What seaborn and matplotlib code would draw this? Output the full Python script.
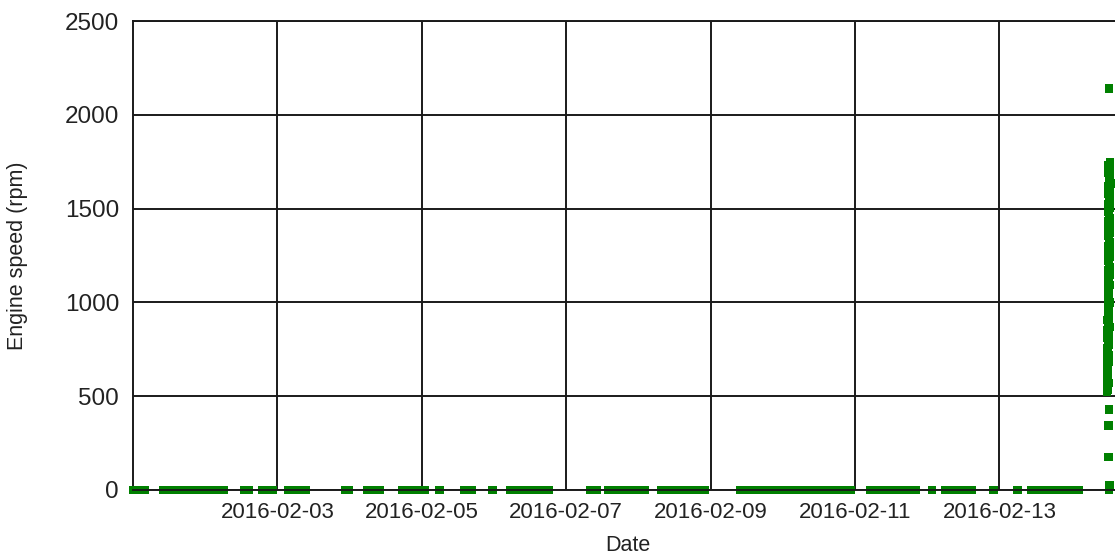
import pandas as pd
import matplotlib.pyplot as plt
import matplotlib.dates as mdates
import seaborn as sns
plt.switch_backend('Agg')

# hours after 2016-02-01 00:00 for the idle samples (0 rpm)
idle_hours = [0, 2, 4,
              10, 12.5, 15, 17.5, 20, 22.5, 25, 27.5, 30,
              37, 38.5,
              43, 45, 46.5,
              51.5, 54, 56, 57.5,
              70.5, 71.8,
              78, 80, 82,
              89.5, 92, 94.5, 97,
              102,
              110, 112.5,
              119.5,
              125.6, 128, 130.5, 133, 135.5, 138,
              152.2, 154.2,
              158, 160.5, 163, 165.5, 168, 170,
              175.5, 178, 180.5, 183, 185.5, 188, 190,
              202, 204.5, 207, 209.5, 212, 214.5, 217, 219.5, 222, 224.5,
              227, 229.5, 232, 234.5, 237, 238.7,
              245, 247.5, 250, 252.5, 255, 257.5, 260.3,
              265.6,
              270, 272.5, 275, 277, 278.6,
              286,
              294,
              298.8, 301, 303.5, 306, 308.5, 311, 313, 314.4,
              324.4]

# running samples at the end of the period
run_hours = [324.4, 324.8, 324.3, 324.6, 324.3, 324.7, 324.4, 324.9, 324.3,
             324.6, 324.3, 324.5, 324.8, 324.3, 324.6, 324.2, 324.4, 324.7,
             324.2, 324.5, 324.3, 324.8, 324.2, 324.4, 324.6, 324.2, 324.5,
             324.3, 324.7, 324.2, 324.4, 324.6, 324.2, 324.5, 324.1, 324.3,
             324.6, 324.1, 324.4, 324.1, 324.2, 324.5, 324.1, 324.3, 324.1,
             324.4, 324.0, 324.2, 324.5, 324.0, 324.3, 324.0, 324.2, 324.4,
             324.0, 323.9, 324.2, 323.9, 324.3, 323.8, 324.1, 323.8,
             324.0, 323.9, 324.2, 323.8, 324.1, 323.8, 324.0, 323.9,
             324.4, 324.3, 324.3, 324.6]
run_rpm = [2140, 1745, 1728, 1712, 1690, 1672, 1655, 1634, 1616,
           1598, 1580, 1561, 1540, 1523, 1505, 1486, 1466, 1448,
           1430, 1411, 1392, 1374, 1355, 1336, 1318, 1297, 1279,
           1261, 1242, 1224, 1205, 1186, 1168, 1149, 1130, 1112,
           1093, 1074, 1056, 1037, 1018, 1000, 981, 962, 944,
           925, 906, 888, 869, 850, 832, 813, 794, 776,
           757, 738, 720, 701, 682, 664, 645, 626,
           607, 589, 570, 552, 535, 522, 612, 545,
           430, 345, 176, 25]

start = pd.Timestamp("2016-02-01")
df = pd.DataFrame({
    "hours": idle_hours + run_hours,
    "rpm": [0] * len(idle_hours) + run_rpm,
})
df["Date"] = start + pd.to_timedelta(df["hours"], unit="h")

sns.set_style("white")
plt.rcParams['font.family'] = ['Liberation Sans', 'DejaVu Sans']

fig = plt.figure(figsize=(11.15, 5.58), dpi=100)
ax = fig.add_axes([133 / 1115, 68 / 558, 1010.8 / 1115, 469 / 558])

sns.scatterplot(data=df, x="Date", y="rpm", ax=ax, marker="s", s=40,
                color="#008000", edgecolor="none", linewidth=0,
                clip_on=False, zorder=3)

ax.set_xlim(start, pd.Timestamp("2016-02-15"))
ax.set_ylim(0, 2500)
ax.set_yticks([0, 500, 1000, 1500, 2000, 2500])
ax.set_xticks(pd.date_range("2016-02-03", "2016-02-13", freq="2D"))
ax.xaxis.set_major_formatter(mdates.DateFormatter("%Y-%m-%d"))

ax.grid(True, color="#1a1a1a", linewidth=1.4)
ax.set_axisbelow(True)
for side in ["left", "bottom", "top"]:
    ax.spines[side].set_color("#1a1a1a")
    ax.spines[side].set_linewidth(1.4)
ax.spines["right"].set_visible(False)
ax.spines["bottom"].set_zorder(4)

ax.tick_params(axis="y", length=8, width=1.4, pad=2, labelsize=17.5,
               color="#1a1a1a", labelcolor="#222222")
ax.tick_params(axis="x", length=5, width=1.4, pad=4, labelsize=16,
               color="#1a1a1a", labelcolor="#222222")

ax.set_xlabel("Date", fontsize=15.5, color="#222222")
ax.set_ylabel("Engine speed (rpm)", fontsize=15.5, color="#222222")
ax.xaxis.set_label_coords(0.4897, -0.1194)
ax.xaxis.label.set_va("center")
ax.yaxis.set_label_coords(-0.1138, 0.499)
ax.yaxis.label.set_rotation_mode("default")
ax.yaxis.label.set_va("center")
ax.yaxis.label.set_ha("center")

plt.savefig("out.png", dpi=100)
